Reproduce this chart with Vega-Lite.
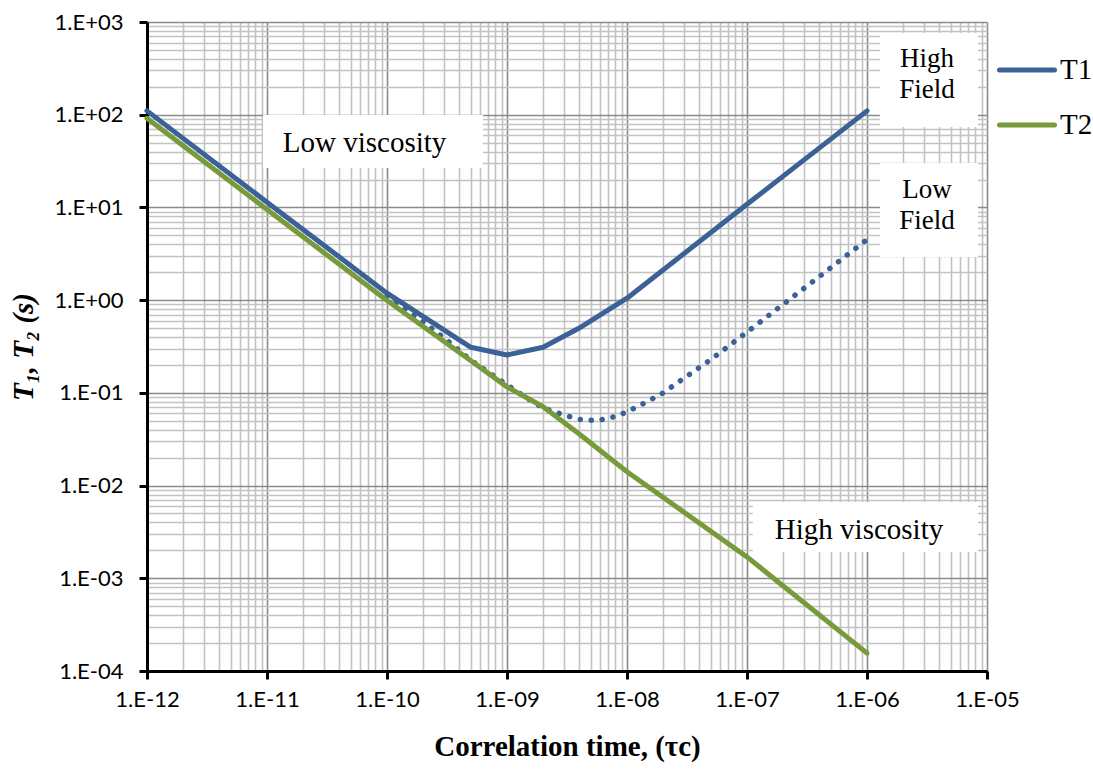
{
  "$schema": "https://vega.github.io/schema/vega-lite/v6.json",
  "width": 840,
  "height": 649,
  "autosize": {"type": "none"},
  "padding": {"left": 147, "top": 22, "right": 106, "bottom": 101},
  "background": "white",
  "config": {"view": {"stroke": null}},
  "datasets": {
    "curves": [
      {"tau": 1e-12, "T": 110, "series": "T1"},
      {"tau": 1e-11, "T": 11.4, "series": "T1"},
      {"tau": 1e-10, "T": 1.19, "series": "T1"},
      {"tau": 5e-10, "T": 0.31, "series": "T1"},
      {"tau": 1e-9, "T": 0.256, "series": "T1"},
      {"tau": 2e-9, "T": 0.31, "series": "T1"},
      {"tau": 4e-9, "T": 0.5, "series": "T1"},
      {"tau": 1e-8, "T": 1.05, "series": "T1"},
      {"tau": 1e-7, "T": 10.8, "series": "T1"},
      {"tau": 1e-6, "T": 110, "series": "T1"},
      {"tau": 1e-12, "T": 91.5, "series": "T2"},
      {"tau": 1e-11, "T": 9.5, "series": "T2"},
      {"tau": 1e-10, "T": 0.99, "series": "T2"},
      {"tau": 5e-10, "T": 0.222, "series": "T2"},
      {"tau": 1e-9, "T": 0.116, "series": "T2"},
      {"tau": 2e-9, "T": 0.0708, "series": "T2"},
      {"tau": 4e-9, "T": 0.036, "series": "T2"},
      {"tau": 1e-8, "T": 0.0141, "series": "T2"},
      {"tau": 1e-7, "T": 0.0017, "series": "T2"},
      {"tau": 1e-6, "T": 0.000156, "series": "T2"},
      {"tau": 1e-10, "T": 1.1, "series": "T1 low field"},
      {"tau": 2e-10, "T": 0.58, "series": "T1 low field"},
      {"tau": 3e-10, "T": 0.39, "series": "T1 low field"},
      {"tau": 5e-10, "T": 0.224, "series": "T1 low field"},
      {"tau": 1e-9, "T": 0.122, "series": "T1 low field"},
      {"tau": 1.5e-9, "T": 0.086, "series": "T1 low field"},
      {"tau": 2e-9, "T": 0.0687, "series": "T1 low field"},
      {"tau": 3e-9, "T": 0.0575, "series": "T1 low field"},
      {"tau": 4e-9, "T": 0.0518, "series": "T1 low field"},
      {"tau": 5e-9, "T": 0.0507, "series": "T1 low field"},
      {"tau": 6e-9, "T": 0.051, "series": "T1 low field"},
      {"tau": 8e-9, "T": 0.0556, "series": "T1 low field"},
      {"tau": 1e-8, "T": 0.0624, "series": "T1 low field"},
      {"tau": 1.5e-8, "T": 0.0813, "series": "T1 low field"},
      {"tau": 2e-8, "T": 0.1, "series": "T1 low field"},
      {"tau": 3e-8, "T": 0.1445, "series": "T1 low field"},
      {"tau": 5e-8, "T": 0.229, "series": "T1 low field"},
      {"tau": 1e-7, "T": 0.452, "series": "T1 low field"},
      {"tau": 2e-7, "T": 0.9, "series": "T1 low field"},
      {"tau": 5e-7, "T": 2.24, "series": "T1 low field"},
      {"tau": 1e-6, "T": 4.5, "series": "T1 low field"}
    ],
    "boxes": [
      {"tau": 9.26e-12, "tau2": 6.31e-10, "T": 99.3, "Tb": 26.6},
      {"tau": 1.28e-6, "tau2": 8.41e-6, "T": 760, "Tb": 73.6},
      {"tau": 1.28e-6, "tau2": 8.41e-6, "T": 30.1, "Tb": 2.92},
      {"tau": 1.12e-7, "tau2": 8.41e-6, "T": 0.00664, "Tb": 0.00192}
    ],
    "labels": [
      {"tau": 6.5e-11, "T": 49.5, "label": "Low viscosity", "kind": "viscosity"},
      {"tau": 8.58e-7, "T": 0.00331, "label": "High viscosity", "kind": "viscosity"},
      {"tau": 3.16e-6, "T": 395, "label": "High\nField", "kind": "field"},
      {"tau": 3.16e-6, "T": 15.6, "label": "Low\nField", "kind": "field"}
    ]
  },
  "encoding": {
    "x": {
      "field": "tau",
      "type": "quantitative",
      "scale": {"type": "log", "domain": [1e-12, 1e-5], "nice": false},
      "axis": {
        "values": [1e-12,2e-12,3e-12,4e-12,5e-12,6e-12,7e-12,8e-12,9e-12,
                   1e-11,2e-11,3e-11,4e-11,5e-11,6e-11,7e-11,8e-11,9e-11,
                   1e-10,2e-10,3e-10,4e-10,5e-10,6e-10,7e-10,8e-10,9e-10,
                   1e-9,2e-9,3e-9,4e-9,5e-9,6e-9,7e-9,8e-9,9e-9,
                   1e-8,2e-8,3e-8,4e-8,5e-8,6e-8,7e-8,8e-8,9e-8,
                   1e-7,2e-7,3e-7,4e-7,5e-7,6e-7,7e-7,8e-7,9e-7,
                   1e-6,2e-6,3e-6,4e-6,5e-6,6e-6,7e-6,8e-6,9e-6,1e-5],
        "grid": true,
        "gridColor": {"condition": {"test": "abs(log(datum.value)/LN10 - round(log(datum.value)/LN10)) < 0.01", "value": "#8a8a8a"}, "value": "#c2c2c2"},
        "gridWidth": 1.6,
        "ticks": true,
        "tickColor": "black",
        "tickWidth": 3,
        "tickSize": 8,
        "tickOpacity": {"condition": {"test": "abs(log(datum.value)/LN10 - round(log(datum.value)/LN10)) < 0.01", "value": 1}, "value": 0},
        "domainColor": "black",
        "domainWidth": 3,
        "labelExpr": "abs(log(datum.value)/LN10 - round(log(datum.value)/LN10)) < 0.01 ? '1.E' + (round(log(datum.value)/LN10) < 0 ? '-' : '+') + pad(toString(abs(round(log(datum.value)/LN10))), 2, '0', 'left') : ''",
        "labelFont": "Lato",
        "labelFontSize": 22,
        "labelColor": "black",
        "labelPadding": 10,
        "labelOverlap": false,
        "labelFlush": false,
        "labelBound": false,
        "title": "Correlation time, (τc)",
        "titleFont": "Liberation Serif",
        "titleFontSize": 29,
        "titleFontWeight": "bold",
        "titleColor": "black",
        "titlePadding": 22
      }
    },
    "y": {
      "field": "T",
      "type": "quantitative",
      "scale": {"type": "log", "domain": [1e-4, 1e3], "nice": false},
      "axis": {
        "values": [1e-4,2e-4,3e-4,4e-4,5e-4,6e-4,7e-4,8e-4,9e-4,
                   1e-3,2e-3,3e-3,4e-3,5e-3,6e-3,7e-3,8e-3,9e-3,
                   0.01,0.02,0.03,0.04,0.05,0.06,0.07,0.08,0.09,
                   0.1,0.2,0.3,0.4,0.5,0.6,0.7,0.8,0.9,
                   1,2,3,4,5,6,7,8,9,
                   10,20,30,40,50,60,70,80,90,
                   100,200,300,400,500,600,700,800,900,1000],
        "grid": true,
        "gridColor": {"condition": {"test": "abs(log(datum.value)/LN10 - round(log(datum.value)/LN10)) < 0.01", "value": "#8a8a8a"}, "value": "#c2c2c2"},
        "gridWidth": 1.6,
        "ticks": true,
        "tickColor": "black",
        "tickWidth": 3,
        "tickSize": 8,
        "tickOpacity": {"condition": {"test": "abs(log(datum.value)/LN10 - round(log(datum.value)/LN10)) < 0.01", "value": 1}, "value": 0},
        "domainColor": "black",
        "domainWidth": 3,
        "labelExpr": "abs(log(datum.value)/LN10 - round(log(datum.value)/LN10)) < 0.01 ? '1.E' + (round(log(datum.value)/LN10) < 0 ? '-' : '+') + pad(toString(abs(round(log(datum.value)/LN10))), 2, '0', 'left') : ''",
        "labelFont": "Lato",
        "labelFontSize": 22,
        "labelColor": "black",
        "labelPadding": 16,
        "labelOverlap": false,
        "labelBound": false,
        "title": "T₁, T₂ (s)",
        "titleFont": "Liberation Serif",
        "titleFontSize": 29,
        "titleFontWeight": "bold",
        "titleFontStyle": "italic",
        "titleColor": "black",
        "titlePadding": 16
      }
    }
  },
  "layer": [
    {
      "data": {"name": "boxes"},
      "mark": {"type": "rect", "fill": "white", "stroke": null},
      "encoding": {
        "x2": {"field": "tau2"},
        "y2": {"field": "Tb"}
      }
    },
    {
      "data": {"name": "labels"},
      "transform": [{"filter": "datum.kind === 'viscosity'"}],
      "mark": {"type": "text", "font": "Liberation Serif", "fontSize": 29, "color": "black", "align": "center", "baseline": "middle"},
      "encoding": {"text": {"field": "label"}}
    },
    {
      "data": {"name": "labels"},
      "transform": [{"filter": "datum.kind === 'field'"}],
      "mark": {"type": "text", "font": "Liberation Serif", "fontSize": 27, "color": "black", "align": "center", "baseline": "middle", "lineBreak": "\n", "lineHeight": 31},
      "encoding": {"text": {"field": "label"}}
    },
    {
      "data": {"name": "curves"},
      "transform": [{"filter": "datum.series === 'T1 low field'"}],
      "mark": {"type": "line", "color": "#3B6297", "strokeWidth": 5.5, "strokeDash": [0.1, 10.9], "strokeCap": "round", "strokeJoin": "round"},
      "encoding": {}
    },
    {
      "data": {"name": "curves"},
      "transform": [{"filter": "datum.series !== 'T1 low field'"}],
      "mark": {"type": "line", "strokeWidth": 5, "strokeCap": "round", "strokeJoin": "round"},
      "encoding": {
        "color": {
          "field": "series",
          "type": "nominal",
          "scale": {"domain": ["T1", "T2"], "range": ["#3B6297", "#789A3A"]},
          "legend": {
            "orient": "none",
            "legendX": 850,
            "legendY": 18,
            "title": null,
            "padding": 0,
            "symbolType": "stroke",
            "symbolSize": 3025,
            "symbolStrokeWidth": 5,
            "labelFont": "Liberation Serif",
            "labelFontSize": 29,
            "labelColor": "black",
            "labelOffset": 3,
            "rowPadding": 10,
            "encode": {"symbols": {"update": {"strokeCap": {"value": "round"}}}}
          }
        }
      }
    }
  ]
}
